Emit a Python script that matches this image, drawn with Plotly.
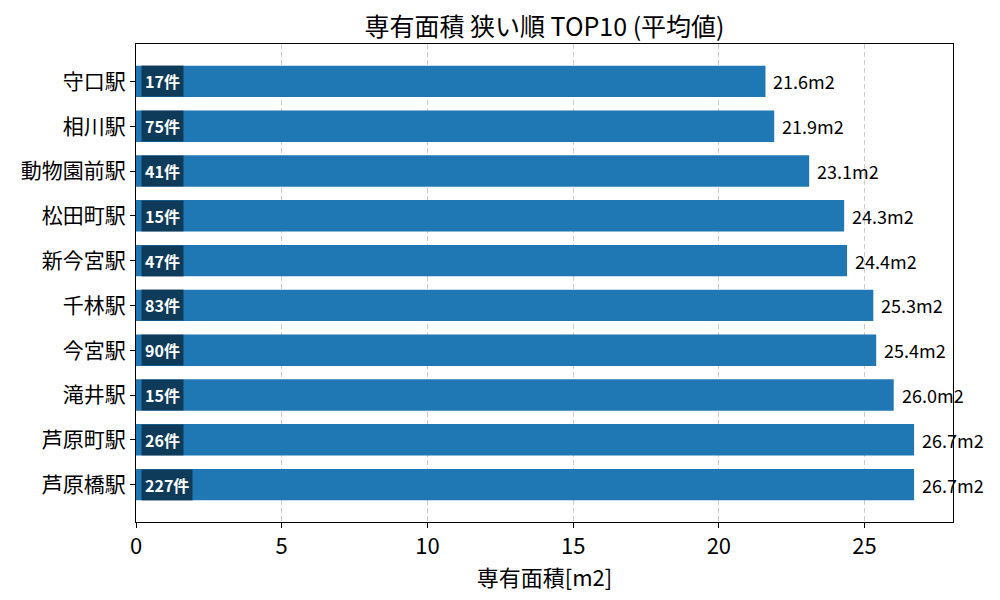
import plotly.graph_objects as go

# データ（専有面積の平均値・件数）
stations = ["守口駅", "相川駅", "動物園前駅", "松田町駅", "新今宮駅",
            "千林駅", "今宮駅", "滝井駅", "芦原町駅", "芦原橋駅"]
avg_area = [21.6, 21.9, 23.1, 24.3, 24.4, 25.3, 25.4, 26.0, 26.7, 26.7]
counts = [17, 75, 41, 15, 47, 83, 90, 15, 26, 227]
x_ticks = [0, 5, 10, 15, 20, 25]

FONT = "Noto Sans CJK JP"
BAR_COLOR = "#1f77b4"

fig = go.Figure(go.Bar(
    x=avg_area,
    y=stations,
    orientation="h",
    marker=dict(color=BAR_COLOR, line=dict(width=0)),
    width=0.7,
    hoverinfo="x+y",
))

annotations = []
for st, v, c in zip(stations, avg_area, counts):
    # 値ラベル
    annotations.append(dict(
        x=v + 0.2, y=st, xref="x", yref="y",
        text=f"{v:.1f}m2", showarrow=False, xanchor="left",
        font=dict(family=FONT, size=18, color="black"),
    ))
    # 件数バッジ
    annotations.append(dict(
        x=0.17, y=st, xref="x", yref="y",
        text=f"<b>{c}件</b>", showarrow=False, xanchor="left",
        font=dict(family=FONT, size=16, color="white"),
        bgcolor="rgba(0,0,0,0.5)", borderpad=3,
    ))

xmax = max(avg_area) * 1.05

fig.update_layout(
    width=1000, height=600,
    margin=dict(l=136, r=47, t=44, b=78, autoexpand=False),
    plot_bgcolor="white", paper_bgcolor="white",
    font=dict(family=FONT, color="black"),
    title=dict(text="専有面積 狭い順 TOP10 (平均値)", x=0.5445, xanchor="center",
               y=0.955, yanchor="middle", font=dict(family=FONT, size=25),
               automargin=False),
    showlegend=False,
    bargap=0.3,
    annotations=annotations,
    xaxis=dict(
        range=[0, xmax], tickvals=x_ticks, automargin=False,
        showgrid=True, gridcolor="#cccccc", griddash="5px,3px", gridwidth=1,
        showline=True, linecolor="black", linewidth=1, mirror=True,
        ticks="outside", ticklen=5, tickcolor="black",
        tickfont=dict(family=FONT, size=22),
        title=dict(text="専有面積[m2]", font=dict(family=FONT, size=22), standoff=6),
        zeroline=False,
    ),
    yaxis=dict(
        type="category", categoryorder="array", categoryarray=stations,
        range=[9.835, -0.835], automargin=False,
        showgrid=False,
        showline=True, linecolor="black", linewidth=1, mirror=True,
        ticks="outside", ticklen=5, tickcolor="black",
        tickfont=dict(family=FONT, size=21),
    ),
)

# ページ既定の余白を消して図を左上に合わせる
fig.write_html("out.html", config={"displayModeBar": False},
               post_script="document.body.style.margin='0';")
